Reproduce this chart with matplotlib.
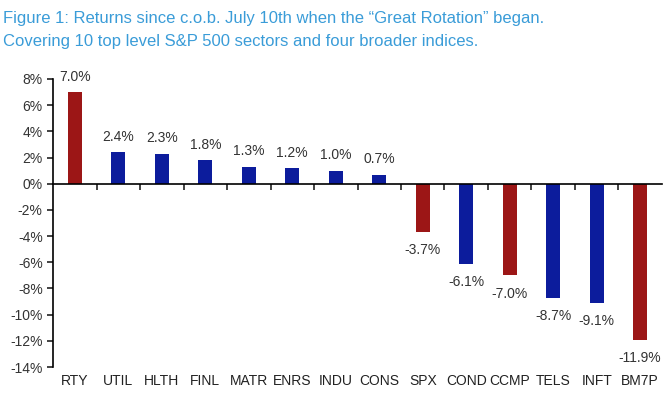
import matplotlib
matplotlib.use("Agg")
import matplotlib.pyplot as plt
import numpy as np

# data
tickers = ["RTY", "UTIL", "HLTH", "FINL", "MATR", "ENRS", "INDU", "CONS",
           "SPX", "COND", "CCMP", "TELS", "INFT", "BM7P"]
returns = [7.0, 2.4, 2.3, 1.8, 1.3, 1.2, 1.0, 0.7,
           -3.7, -6.1, -7.0, -8.7, -9.1, -11.9]
broad_index = ["RTY", "SPX", "CCMP", "BM7P"]  # red bars
y_ticks = [8, 6, 4, 2, 0, -2, -4, -6, -8, -10, -12, -14]

red = "#9c1616"
blue = "#0c1c9c"
colors = [red if t in broad_index else blue for t in tickers]

plt.rcParams["font.family"] = ["Liberation Sans", "DejaVu Sans"]

fig = plt.figure(figsize=(6.72, 3.93), dpi=100)
ax = fig.add_axes([0.079, 0.066, 0.906, 0.733])

x = np.arange(len(tickers))
ax.bar(x, returns, width=0.33, color=colors)

# value labels
for xi, v in zip(x, returns):
    if v >= 0:
        ax.annotate(f"{v:.1f}%", (xi, v), xytext=(0, 6), textcoords="offset points",
                    ha="center", va="bottom", fontsize=10, color="#333333")
    else:
        ax.annotate(f"{v:.1f}%", (xi, v), xytext=(0, -8), textcoords="offset points",
                    ha="center", va="top", fontsize=10, color="#333333")

ax.set_xlim(-0.5, len(tickers) - 0.5)
ax.set_ylim(-14, 8)
ax.set_yticks(y_ticks)
ax.set_yticklabels([f"{t}%" for t in y_ticks], fontsize=10, color="#333333")
ax.tick_params(axis="y", direction="out", length=4, width=1.2, color="#222222")

# x axis line at zero with ticks between categories
for s in ["top", "right"]:
    ax.spines[s].set_visible(False)
ax.spines["bottom"].set_position(("data", 0))
ax.spines["bottom"].set_linewidth(1.2)
ax.spines["left"].set_linewidth(1.2)
ax.set_xticks(x)
ax.set_xticklabels([])
ax.tick_params(axis="x", which="major", length=0)
ax.set_xticks(np.arange(0.5, len(tickers) - 0.5, 1), minor=True)
ax.tick_params(axis="x", which="minor", direction="out", length=4, width=1.2, color="#222222")

# category labels along the bottom
sec = ax.secondary_xaxis("bottom")
sec.set_xticks(x)
sec.set_xticklabels(tickers, fontsize=10, color="#222222")
sec.tick_params(length=0, pad=5)
sec.spines["bottom"].set_visible(False)

fig.text(0.005, 0.972, "Figure 1: Returns since c.o.b. July 10th when the \u201cGreat Rotation\u201d began.\n"
         "Covering 10 top level S&P 500 sectors and four broader indices.",
         ha="left", va="top", fontsize=12, color="#3a9cd8", linespacing=1.7)

fig.savefig("out.png", dpi=100)
